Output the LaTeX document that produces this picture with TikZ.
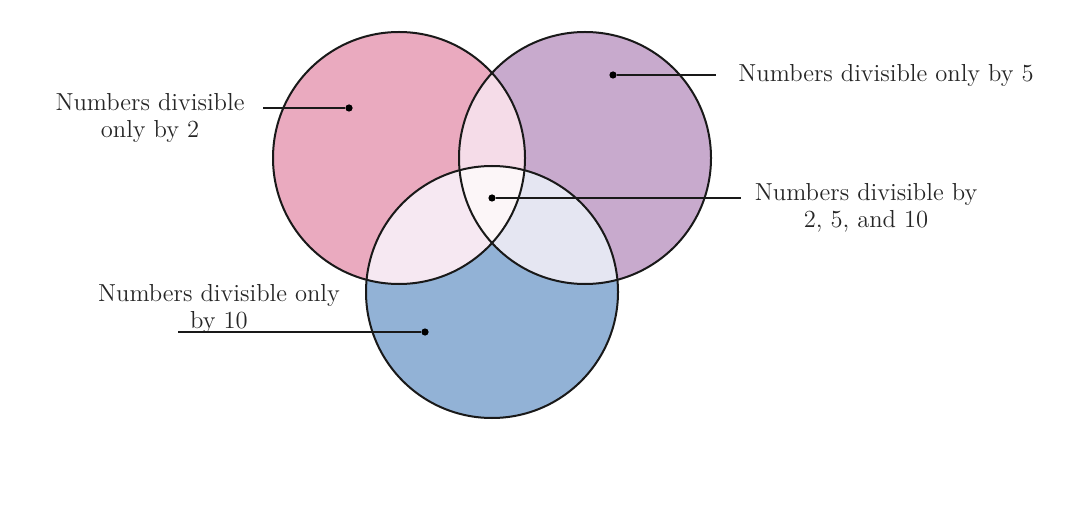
\documentclass[tikz,border=0pt]{standalone}
\usepackage{amssymb}
\usepackage{amsmath}
\usepackage{tikz}

\definecolor{corDois}{HTML}{EAAABF}
\definecolor{corCinco}{HTML}{C8AACD}
\definecolor{corDez}{HTML}{92B2D6}
\definecolor{corDoisCinco}{HTML}{F5DCE8}
\definecolor{corDoisDez}{HTML}{F6E8F2}
\definecolor{corCincoDez}{HTML}{E5E6F2}
\definecolor{corTodos}{HTML}{FCF6F8}

\tikzset{
  rotulo/.style={align=center, inner sep=0pt, font=\fontsize{12.3}{13.5}\selectfont, text=black!85},
  ponto/.style={circle, fill=black, inner sep=0pt, minimum size=3.6pt},
  ligacao/.style={line width=0.7pt, black!90}
}

\begin{document}
\begin{tikzpicture}[x=0.5pt,y=-0.5pt]
        \useasboundingbox (0,0) rectangle (1070,513);
        % Centros dos circulos
        \coordinate (cDois) at (399,158);
        \coordinate (cCinco) at (585,158);
        \coordinate (cDez) at (492,292);
        % Preenchimento dos circulos
        \fill[corDois]  (cDois)  circle[radius=63pt];
        \fill[corCinco] (cCinco) circle[radius=63pt];
        \fill[corDez]   (cDez)   circle[radius=63pt];
        % Intersecoes
        \begin{scope}
            \clip (cDois) circle[radius=63pt];
            \fill[corDoisCinco] (cCinco) circle[radius=63pt];
            \fill[corDoisDez] (cDez) circle[radius=63pt];
        \end{scope}
        \begin{scope}
            \clip (cCinco) circle[radius=63pt];
            \fill[corCincoDez] (cDez) circle[radius=63pt];
            \clip (cDez) circle[radius=63pt];
            \fill[corTodos] (cDois) circle[radius=63pt];
        \end{scope}
        % Contornos
        \draw[line width=1pt, black!90] (cDois) circle[radius=63pt];
        \draw[line width=1pt, black!90] (cCinco) circle[radius=63pt];
        \draw[line width=1pt, black!90] (cDez) circle[radius=63pt];

        % Pontos
        \node[ponto] (pDois) at (349,108) {};
        \node[ponto] (pCinco) at (613,75) {};
        \node[ponto] (pTodos) at (492,198) {};
        \node[ponto] (pDez) at (425,332) {};
        % Rotulos
        \node[rotulo] (lDois) at (150,118) {Numbers divisible\\only by 2};
        \node[rotulo, anchor=west] (lCinco) at (738,75) {Numbers divisible only by 5};
        \node[rotulo] (lTodos) at (866,208) {Numbers divisible by\\2, 5, and 10};
        \node[rotulo] (lDez) at (219,309) {Numbers divisible only\\by 10};
        % Pontas livres das linhas
        \coordinate (fDois) at (263,108);
        \coordinate (fCinco) at (716,75);
        \coordinate (fTodos) at (741,198);
        \coordinate (fDez) at (178,332);
        % Linhas
        \draw[ligacao] (fDois) -- (pDois);
        \draw[ligacao] (pCinco) -- (fCinco);
        \draw[ligacao] (pTodos) -- (fTodos);
        \draw[ligacao] (fDez) -- (pDez);
\end{tikzpicture}
\end{document}
